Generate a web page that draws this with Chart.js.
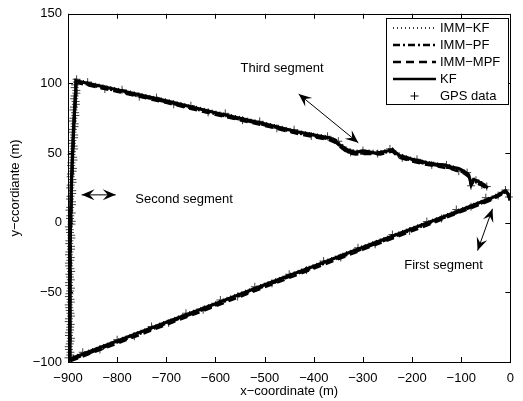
<!DOCTYPE html>
<html>
<head>
<meta charset="utf-8">
<script src="https://cdn.jsdelivr.net/npm/chart.js@4.4.1/dist/chart.umd.min.js"></script>
<style>
  body { margin: 0; background: #fff; }
</style>
</head>
<body>
<canvas id="c" width="523" height="401"></canvas>
<script>
// series names, in legend order
const names = ['IMM\u2212KF', 'IMM\u2212PF', 'IMM\u2212MPF', 'KF', 'GPS data'];
const xTicks = [-900, -800, -700, -600, -500, -400, -300, -200, -100, 0];
const yTicks = [-100, -50, 0, 50, 100, 150];

// track estimates, [x, y] in metres
const kf = [[-1,17],[-5,21],[-10,23],[-25,20],[-40,17.5],[-80,12],[-120,6.5],[-168,0],[-300,-17.6],[-400,-31.2],[-500,-44.6],[-600,-58.1],[-700,-71.5],[-800,-85],[-897,-98],
  [-896,-20],[-893,30],[-889,66],[-885,92],[-884,102],
  [-800,95.5],[-700,87.5],[-600,79],[-500,71],[-430,65],[-370,61],[-357,59.5],[-350,56.5],[-343,55],[-330,52],[-315,50.5],[-300,51.5],[-290,51],[-275,50],[-265,50.5],[-250,51.5],[-240,52.5],[-232,50],[-225,48],[-212,47],[-200,45.5],[-185,44.5],[-170,43],[-150,42],[-135,41.5],[-120,40],[-105,39],[-95,37],[-85,34.5],[-80,28],[-75,31],[-65,29.5],[-55,27.5],[-46,25]];
const immKf = [[-1,18],[-5,22],[-10,24],[-25,21],[-40,18.5],[-80,13],[-120,7.5],[-168,1],[-300,-16.5],[-400,-30.2],[-500,-43.5],[-600,-57],[-700,-70.5],[-800,-84],[-898,-97],
  [-897,-20],[-894,30],[-890,66],[-886,92],[-885,103],
  [-800,96.5],[-700,88.5],[-600,80],[-500,72],[-430,66],[-370,62],[-357,60.5],[-343,56.5],[-330,53],[-315,52],[-290,52],[-265,51.5],[-240,53.5],[-232,51],[-225,49.5],[-200,46.5],[-170,44],[-150,43],[-120,41],[-95,38],[-85,35.5],[-80,29],[-75,32],[-65,30.5],[-55,28.5],[-46,26]];
const immPf = [[-1,16],[-5,20],[-10,22],[-25,19],[-40,16.5],[-80,11],[-120,5.5],[-168,-1],[-300,-18.8],[-400,-32.3],[-500,-45.6],[-600,-59.2],[-700,-72.5],[-800,-86],[-896,-99],
  [-895,-20],[-892,30],[-888,66],[-884,92],[-883,101],
  [-800,94.5],[-700,86.5],[-600,78],[-500,70],[-430,64],[-370,60],[-357,58],[-343,54],[-330,50.5],[-315,49.5],[-290,50],[-265,49.5],[-240,51.5],[-232,49],[-225,47],[-200,44.5],[-170,42],[-150,41],[-120,39],[-95,36],[-85,33.5],[-80,27],[-75,30],[-65,28.5],[-55,26.5],[-46,24]];
const immMpf = [[-1,16.5],[-5,20.5],[-10,22],[-25,18.8],[-40,16],[-80,10.5],[-120,5],[-168,-1.8],[-300,-19.4],[-400,-33],[-500,-46.4],[-600,-60],[-700,-73.3],[-800,-86.8],[-896,-99.5],
  [-895,-21],[-892,29],[-888,65],[-884,91],[-883,100.5],
  [-800,94],[-700,86],[-600,77.5],[-500,69.5],[-430,63.5],[-370,59.5],[-357,57.5],[-343,53.5],[-330,50],[-315,49],[-290,49.5],[-265,49],[-240,51],[-232,48.5],[-225,46.5],[-200,44],[-170,41.5],[-150,40.5],[-120,38.5],[-95,35.5],[-85,33],[-80,26.5],[-75,29.5],[-65,28],[-55,26],[-46,23.5]];

// GPS fixes
const gps = [
  // second segment (vertical)
  [-899,-97],[-895,-93],[-898.5,-89],[-895,-85],[-898,-81],[-896,-77],[-894.5,-73],[-898,-69],[-895,-65],[-897.5,-61],
  [-894.5,-57],[-898,-53],[-895.5,-49],[-897.5,-45],[-894.5,-41],[-897,-37],[-895,-33],[-898,-29],[-894.5,-25],[-897,-21],
  [-894,-17],[-897,-13],[-893.5,-9],[-896.5,-5],[-893,-1],[-896,3],[-892.5,7],[-895.5,11],[-892,15],[-895,19],
  [-891.5,23],[-894.5,27],[-891,31],[-894,35],[-890,39],[-893,43],[-889.5,47],[-892,51],[-888.5,55],[-891,59],
  [-887.5,63],[-890,67],[-886.5,71],[-889,75],[-885.5,79],[-888,83],[-884.5,87],[-886.5,91],[-883,95],[-885.5,99],[-882.5,103],
  [-895.5,-95],[-898,-91],[-896.5,-87],[-894,-83],[-897.5,-79],[-895.5,-75],[-898.5,-71],[-894,-67],[-896.5,-63],[-898.5,-59],
  [-895,-55],[-897,-51],[-894,-47],[-898,-43],[-896,-39],[-893.5,-35],[-897.5,-31],[-895.5,-27],[-898,-23],[-894,-19],
  [-897.5,-15],[-893,-11],[-896,-7],[-898,-3],[-892.5,1],[-895.5,5],[-897,9],[-892,13],[-896,17],[-891.5,21],
  [-895.5,25],[-891,29],[-894.5,33],[-890.5,37],[-893.5,41],[-889,45],[-893,49],[-888,53],[-892,57],[-887.5,61],
  [-891,65],[-886.5,69],[-890,73],[-885,77],[-889,81],[-884,85],[-887.5,89],[-883,93],[-886.5,97],[-882,101],
  // first segment
  [-870,-93],[-835,-91],[-800,-84],[-765,-81.5],[-730,-74.5],[-695,-72],[-660,-65],[-625,-62.5],[-590,-55.5],[-555,-53],
  [-520,-46],[-485,-43.5],[-450,-37],[-415,-34],[-380,-27.5],[-345,-25],[-310,-18],[-275,-15.5],[-240,-8.5],[-205,-6],
  [-170,0.8],[-140,3],[-110,9.5],[-80,11.5],[-50,18],[-25,19.5],[-10,23.5],[-3,18.5],
  // third segment
  [-860,101],[-825,96],[-790,95.5],[-755,90.5],[-720,89.8],[-685,85],[-650,84],[-615,79.2],[-580,78.5],[-545,73.6],
  [-510,72.8],[-475,67.8],[-440,66.8],[-405,62.3],[-372,62],[-350,58.5],[-325,50.5],[-300,51.8],[-270,49.6],[-245,53],
  [-220,46.5],[-190,45.5],[-160,41.5],[-130,41.5],[-105,37],[-88,36],[-80,26.5],[-70,30.5],[-58,27],[-48,26]
];

const pts = a => a.map(p => ({ x: p[0], y: p[1] }));
const minus = v => v < 0 ? '\u2212' + Math.abs(v) : String(v);
const FONT = '"Liberation Sans", Arial, Helvetica, sans-serif';

// text and arrows, in data coordinates
const notes = [
  { text: 'Third segment', x: -549, y: 110.5 },
  { text: 'Second segment', x: -763, y: 17 },
  { text: 'First segment', x: -216, y: -30.7 }
];
const arrows = [
  [-430.7, 92.4, -309.4, 57.4],
  [-872.3, 20, -802.9, 20],
  [-36.4, 10, -66.7, -20]
];

function head(ctx, tx, ty, fx, fy) {
  const a = Math.atan2(ty - fy, tx - fx);
  ctx.save();
  ctx.translate(tx, ty);
  ctx.rotate(a);
  ctx.beginPath();
  ctx.moveTo(0, 0);
  ctx.lineTo(-13, -5.5);
  ctx.lineTo(-8, 0);
  ctx.lineTo(-13, 5.5);
  ctx.closePath();
  ctx.fill();
  ctx.restore();
}

const decor = {
  id: 'decor',
  afterDraw(chart) {
    const ctx = chart.ctx;
    const xs = chart.scales.x, ys = chart.scales.y;
    const a = chart.chartArea;
    ctx.save();
    ctx.strokeStyle = '#000';
    ctx.fillStyle = '#000';
    ctx.lineWidth = 1;
    // box
    ctx.strokeRect(Math.round(a.left) + 0.5, Math.round(a.top) + 0.5,
      Math.round(a.right - a.left), Math.round(a.bottom - a.top));
    // inward ticks on all sides
    ctx.beginPath();
    xTicks.forEach(v => {
      const px = Math.round(xs.getPixelForValue(v)) + 0.5;
      ctx.moveTo(px, a.bottom); ctx.lineTo(px, a.bottom - 5);
      ctx.moveTo(px, a.top); ctx.lineTo(px, a.top + 5);
    });
    yTicks.forEach(v => {
      const py = Math.round(ys.getPixelForValue(v)) + 0.5;
      ctx.moveTo(a.left, py); ctx.lineTo(a.left + 5, py);
      ctx.moveTo(a.right, py); ctx.lineTo(a.right - 5, py);
    });
    ctx.stroke();

    // annotations
    ctx.font = '13px ' + FONT;
    ctx.textBaseline = 'middle';
    ctx.textAlign = 'left';
    notes.forEach(n => ctx.fillText(n.text, xs.getPixelForValue(n.x), ys.getPixelForValue(n.y)));
    arrows.forEach(r => {
      const x1 = xs.getPixelForValue(r[0]), y1 = ys.getPixelForValue(r[1]);
      const x2 = xs.getPixelForValue(r[2]), y2 = ys.getPixelForValue(r[3]);
      ctx.beginPath(); ctx.moveTo(x1, y1); ctx.lineTo(x2, y2); ctx.stroke();
      head(ctx, x1, y1, x2, y2);
      head(ctx, x2, y2, x1, y1);
    });

    // legend
    const lx = 386.5, ly = 18.5, lw = 122, lh = 86;
    ctx.fillStyle = '#fff';
    ctx.fillRect(lx, ly, lw, lh);
    ctx.strokeRect(lx, ly, lw, lh);
    chart.data.datasets.forEach((ds, i) => {
      const cy = 28 + i * 17;
      ctx.save();
      if (ds.showLine) {
        ctx.strokeStyle = ds.borderColor;
        ctx.lineWidth = Math.min(ds.borderWidth, 2.5);
        ctx.setLineDash(ds.borderDash || []);
        ctx.beginPath(); ctx.moveTo(393, cy); ctx.lineTo(436, cy); ctx.stroke();
      } else {
        ctx.strokeStyle = '#000';
        ctx.lineWidth = 1;
        ctx.beginPath();
        ctx.moveTo(410.5, cy); ctx.lineTo(418.5, cy);
        ctx.moveTo(414.5, cy - 4); ctx.lineTo(414.5, cy + 4);
        ctx.stroke();
      }
      ctx.restore();
      ctx.fillStyle = '#000';
      ctx.fillText(ds.label, 440, cy + 0.5);
    });
    ctx.restore();
  }
};

new Chart(document.getElementById('c'), {
  type: 'scatter',
  data: {
    datasets: [
      { label: names[0], data: pts(immKf), showLine: true, borderColor: '#000', borderWidth: 1.6, borderDash: [1, 3], pointRadius: 0 },
      { label: names[1], data: pts(immPf), showLine: true, borderColor: '#000', borderWidth: 2.4, borderDash: [7, 3, 2, 3], pointRadius: 0 },
      { label: names[2], data: pts(immMpf), showLine: true, borderColor: '#000', borderWidth: 2.4, borderDash: [8, 5], pointRadius: 0 },
      { label: names[3], data: pts(kf), showLine: true, borderColor: '#000', borderWidth: 3.2, pointRadius: 0 },
      { label: names[4], data: pts(gps), showLine: false, clip: false, pointStyle: 'cross', pointRadius: 4, borderWidth: 1, borderColor: '#444' }
    ]
  },
  options: {
    responsive: false,
    animation: false,
    devicePixelRatio: 1,
    layout: { padding: { top: 12, right: 10, left: 0, bottom: 0 } },
    plugins: { legend: { display: false }, tooltip: { enabled: false } },
    elements: { line: { tension: 0 } },
    scales: {
      x: {
        type: 'linear', min: -900, max: 0,
        afterBuildTicks: s => { s.ticks = xTicks.map(v => ({ value: v })); },
        afterFit: s => { s.height = 39; },
        grid: { display: false, drawTicks: false },
        border: { display: false },
        ticks: { color: '#000', padding: 9, maxRotation: 0, font: { family: FONT, size: 13 }, callback: minus },
        title: { display: true, text: 'x\u2212coordinate (m)', color: '#000', padding: { top: 0, bottom: 2 }, font: { family: FONT, size: 13 } }
      },
      y: {
        type: 'linear', min: -100, max: 150,
        afterBuildTicks: s => { s.ticks = yTicks.map(v => ({ value: v })); },
        afterFit: s => { s.width = 68; },
        grid: { display: false, drawTicks: false },
        border: { display: false },
        ticks: { color: '#000', padding: 6, font: { family: FONT, size: 13 }, callback: minus },
        title: { display: true, text: 'y\u2212ccordiante (m)', color: '#000', padding: { top: 8, bottom: 0 }, font: { family: FONT, size: 13 } }
      }
    }
  },
  plugins: [decor]
});
</script>
</body>
</html>
